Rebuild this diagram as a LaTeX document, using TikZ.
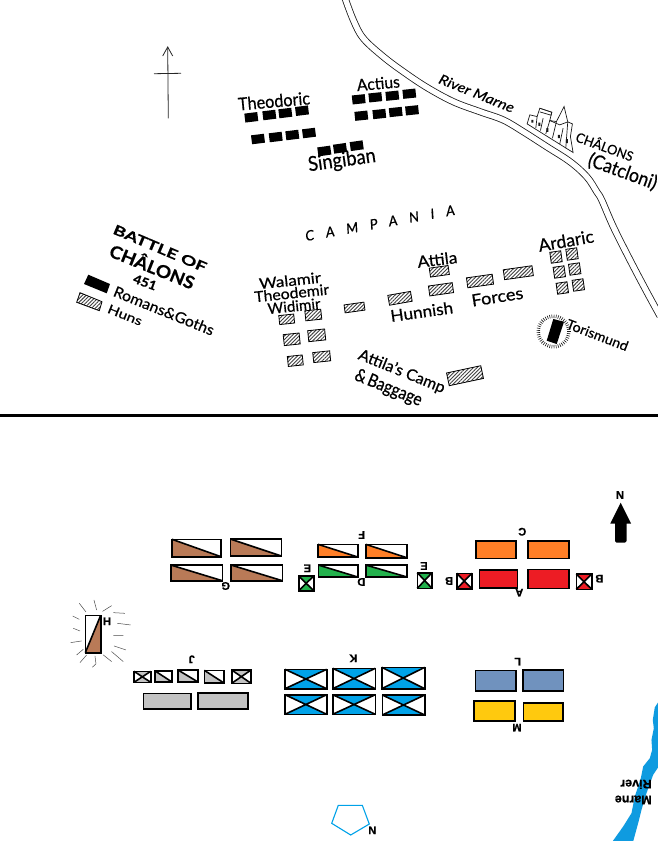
\documentclass[tikz,border=0pt]{standalone}
\usepackage{fontspec}
\usepackage{graphicx}
\setmainfont{Lato}[FakeBold=0.5]
\newfontfamily\lab{Liberation Sans Bold}[FakeBold=0.8]
\usetikzlibrary{patterns.meta}
\definecolor{cbrown}{HTML}{B97A57}
\definecolor{cgreen}{HTML}{22B14C}
\definecolor{corange}{HTML}{FF7F27}
\definecolor{cred}{HTML}{ED1C24}
\definecolor{cgray}{HTML}{C3C3C3}
\definecolor{cblue}{HTML}{00A2E8}
\definecolor{csteel}{HTML}{7092BE}
\definecolor{cyellow}{HTML}{FFC90E}
\definecolor{criver}{HTML}{0F9BE0}
\newcommand{\fw}[3]{\resizebox{#1pt}{#2pt}{#3}}
% lower-left triangle, diagonal top-left to bottom-right
\newcommand{\diagunit}[5]{%
  \fill[#5] (#1,#2) -- (#1,#4) -- (#3,#4) -- cycle;
  \draw[unit] (#1,#2) rectangle (#3,#4);
  \draw[unit] (#1,#2) -- (#3,#4);}
\newcommand{\xfilled}[5]{%
  \fill[#5] (#1,#2) -- (#3,#2) -- ({(#1+#3)/2},{(#2+#4)/2}) -- cycle;
  \fill[#5] (#1,#4) -- (#3,#4) -- ({(#1+#3)/2},{(#2+#4)/2}) -- cycle;
  \draw[unit] (#1,#2) rectangle (#3,#4);
  \draw[unit] (#1,#2) -- (#3,#4) (#3,#2) -- (#1,#4);}
\newcommand{\solid}[5]{\draw[unit,fill=#5] (#1,#2) rectangle (#3,#4);}
\tikzset{
  unit/.style={draw=black,line width=1.6pt,line join=miter},
  blk/.style={fill=black,inner sep=0pt,minimum width=13pt,minimum height=9pt},
  hatchbox/.style={draw=black,line width=.8pt,inner sep=0pt,
    pattern={Lines[angle=45,distance=2.6pt,line width=.9pt]},pattern color=black!75},
  hand/.style={inner sep=0pt,text=black},
  upside/.style={font=\lab\fontsize{11}{11}\selectfont,inner sep=0pt,rotate=180},
  upright/.style={font=\lab\fontsize{11}{11}\selectfont,inner sep=0pt},
}
\begin{document}
\begin{tikzpicture}[x=1pt,y=-1pt]
\useasboundingbox (0,0) rectangle (658,841);
\fill[white] (0,0) rectangle (658,841);

% ---- upper map: north arrow
\draw[line width=.8pt,black!85] (168.3,118.3) -- (167.7,47);
\draw[line width=.8pt,black!85] (162.7,56) -- (167.7,47) -- (172.7,56);
\draw[line width=.8pt,black!85] (154,73.7) -- (181,73.3);

% river
\draw[line width=.8pt,black!90,double=white,double distance=5.4pt,line join=round]
  plot[smooth,tension=.6] coordinates {(345,-2) (353.3,20) (363.3,38.3) (383.3,56.7) (403.3,71.7) (426.7,87.3) (453.3,101.7) (480,111.7) (503.3,120) (523.3,131.7) (546.7,146.7) (570,161.7) (586.7,176.7) (596.7,191.7) (601.7,200) (613.3,226.7) (630,260) (646.7,291.7) (660,316)};
\node[hand,rotate=-22] (rivermarne) at (476.7,93.3) {\fw{80}{10}{\itshape River Marne}};

% town
\begin{scope}[shift={(330,0)},x=.333pt,y=-.333pt,line width=.7pt,black!90]
  \draw[fill=white] (592,372) -- (600,345) -- (622,350) -- (630,325) -- (666,337) -- (660,362) -- (680,365) -- (703,320) -- (714,366) -- (728,372) -- (722,410) -- (730,458) -- cycle;
  \draw (622,350) -- (618,385) (640,355) -- (632,392) (660,362) -- (648,402) (680,365) -- (668,415) (700,385) -- (690,432) (714,366) -- (708,445);
  \draw (630,325) -- (666,337) -- (664,346) -- (630,336);
  \fill (605,360) rectangle (611,368) (626,368) rectangle (632,378) (650,385) rectangle (656,396) (684,405) rectangle (690,415) (708,418) rectangle (714,430);
  \draw (660,362) -- (690,375) -- (714,366);
\end{scope}
\node[hand,rotate=-20] (chalonstown) at (605,145.7) {\fw{60}{12}{CHÂLONS}};
\node[hand,rotate=-20] (catcloni) at (622.7,171.7) {\fw{72}{15}{(Catcloni)}};

% Theodoric, Actius, Singiban
\node[hand,rotate=5] (theodoric) at (274,101) {\fw{72}{13}{Theodoric}};
\foreach \n/\x/\y in {a/251.3/117.3,b/269.3/115,c/285.3/113,d/302/110.7,e/258/139,f/275.7/137,g/292.3/135,h/309/133}
  \node[blk,rotate=7] (th\n) at (\x,\y) {};
\node[hand,rotate=5] (actius) at (378.3,83.3) {\fw{43}{12}{Actius}};
\foreach \n/\x/\y in {a/358.7/99.3,b/375.3/97.3,c/392.3/95.7,d/409.3/93.7,e/361.3/115.7,f/379.3/114,g/395.7/112,h/412/110.3}
  \node[blk,rotate=6] (ac\n) at (\x,\y) {};
\foreach \n/\x/\y in {a/324.3/151,b/340/148.3,c/356.7/145.7}
  \node[blk,rotate=8] (si\n) at (\x,\y) {};
\node[hand,rotate=8] (singiban) at (342,161) {\fw{68}{15}{Singiban}};

% Campania
\node[hand,rotate=10,font=\itshape\fontsize{14}{14}\selectfont] (campania) at (380,223) {\addfontfeature{LetterSpace=85}CAMPANIA};

% title block
\node[hand,rotate=-23] (t1) at (160,248.3) {\fw{100}{10}{\bfseries BATTLE OF}};
\node[hand,rotate=-22] (t2) at (152.7,265.5) {\fw{90}{16}{\bfseries CHÂLONS}};
\node[hand,rotate=-20] (t3) at (145,282.3) {\fw{24}{9}{\bfseries 451}};
\fill[black] (88.3,274.7) -- (110,284) -- (106.7,293.3) -- (84,284) -- cycle;
\draw[hatchbox] (80,292.7) -- (102,301.7) -- (99.3,310.7) -- (76.7,302.3) -- cycle;
\node[hand,rotate=-22] (romans) at (164,310.7) {\fw{107}{11}{Romans\&Goths}};
\node[hand,rotate=-22] (huns) at (125,315) {\fw{36}{9}{Huns}};

% Walamir group
\node[hand,rotate=6] (walamir) at (290,280.5) {\fw{62}{11}{Walamir}};
\node[hand,rotate=6] (theodemir) at (291.7,293) {\fw{75}{11}{Theodemir}};
\node[hand,rotate=6] (widimir) at (294,306) {\fw{53}{11}{Widimir}};
\foreach \n/\x/\y/\w/\h/\r in {
  a/286.7/319.3/15/9/6, b/313.3/315/16/10/6, c/291.7/339.3/16/11/6, d/316.7/335.3/17/11/6,
  e/295.3/360.7/15/10/6, f/321.7/356.7/17/10/6, g/354.5/307.5/20/8/8,
  h/400/298.3/23/10/10, i/439.3/271.3/19/9/8, j/441/289.3/24/10/8, k/480/281/26/10/8, l/518.3/272.7/29/10/8,
  m/556/257/11/11/8, n/572/254/11/11/8, o/559.3/272/11/11/8, p/574.7/269/11/11/8, q/562.3/288/11/11/8, r/578.3/285/11/11/8,
  s/465/375.7/35/13/12}
  \node[hatchbox,minimum width=\w pt,minimum height=\h pt,rotate=\r] (hu\n) at (\x,\y) {};
\node[hand,rotate=7] (attila) at (437.3,259.5) {\fw{40}{12}{Attila}};
\node[hand,rotate=8] (hunnish) at (421.7,311.7) {\fw{63}{12}{Hunnish}};
\node[hand,rotate=9] (forces) at (497.3,296.7) {\fw{52}{12}{Forces}};
\node[hand,rotate=10] (ardaric) at (566,240.7) {\fw{56}{13}{Ardaric}};

% Torismund
\foreach \a in {0,8,...,352}
  \draw[line width=.6pt,black!90] (553.5,331.5) ++(\a:13.5) -- ++(\a:3.5);
\fill[black] (553.3,319) -- (564,321.7) -- (556.7,344) -- (546.7,340.7) -- cycle;
\node[hand,rotate=-21] (torismund) at (597.5,335) {\fw{65}{10}{Torismund}};

% camp
\node[hand,rotate=-22] (camp) at (401.7,371.7) {\fw{92}{12}{Attila's Camp}};
\node[hand,rotate=-22] (baggage) at (388.3,388.3) {\fw{71}{13}{\&\,Baggage}};

% separator
\draw[line width=3pt] (0,415.5) -- (658,415.5);

% ---- lower map
\fill[black] (620.7,502.7) -- (631,523.5) -- (626.7,523.5) -- (626.7,541) -- (625,542.7) -- (616.5,542.7) -- (615,541) -- (615,523.5) -- (610.3,523.5) -- cycle;
\node[upright] (north) at (620,495) {N};

\diagunit{172}{539.3}{221}{556.7}{cbrown}
\diagunit{230.3}{539}{281.3}{556}{cbrown}
\diagunit{170.7}{565}{222.3}{580.7}{cbrown}
\diagunit{231}{565}{282.3}{580.7}{cbrown}
\node[upside] (G) at (225.7,586) {G};

\diagunit{318}{544.3}{357.7}{557}{corange}
\diagunit{365.7}{544.3}{406.7}{557.7}{corange}
\node[upside] (F) at (361.7,535) {F};
\diagunit{318.3}{565}{357.7}{577}{cgreen}
\diagunit{365.7}{565}{407}{577}{cgreen}
\node[upside] (D) at (361.3,582) {D};
\node[upside] (E1) at (307.3,568.3) {E};
\node[upside] (E2) at (424,566) {E};
\xfilled{298.7}{576}{313.7}{590.7}{cgreen}
\xfilled{417.3}{572.7}{432}{588.3}{cgreen}

\node[upside] (C) at (522.3,531.7) {C};
\solid{476}{540.7}{515.7}{558.3}{corange}
\solid{527.7}{540.7}{569}{558.3}{corange}
\solid{479.3}{570}{517.3}{587.7}{cred}
\solid{527.7}{569.3}{569}{588.3}{cred}
\node[upside] (A) at (519.3,592.7) {A};
\node[upside] (B1) at (449,581) {B};
\node[upside] (B2) at (599.3,578.7) {B};
\xfilled{456.7}{573.3}{472}{588.7}{cred}
\xfilled{576.3}{574}{591.7}{589.3}{cred}

% H
\fill[cbrown] (100.7,615.3) -- (100.7,652.7) -- (85.3,652.7) -- cycle;
\draw[unit] (85.3,615.3) rectangle (100.7,652.7);
\draw[unit] (100.7,615.3) -- (85.3,652.7);
\node[upright] (H) at (107,621.3) {H};
\begin{scope}[shift={(60,590)},x=.333pt,y=-.333pt,line width=.5pt,black!70]
  \draw (58,40) -- (78,66) (102,30) -- (110,60) (128,64) -- (155,47) (160,68) -- (195,70)
        (172,100) -- (212,105) (160,136) -- (190,136) (162,168) -- (198,180) (155,185) -- (190,215)
        (130,195) -- (155,215) (105,198) -- (108,222) -- (97,232) (80,195) -- (60,218)
        (70,178) -- (50,195) (32,158) -- (65,153) (40,115) -- (60,123) (38,78) -- (58,88);
\end{scope}

% J
\node[upside] (J) at (191.7,659.3) {J};
\xfilled{134}{671.3}{150.7}{682.3}{cgray}
\diagunit{154.7}{670.7}{172}{682}{cgray}
\diagunit{178}{670}{198}{682}{cgray}
\diagunit{204.3}{670.3}{224}{683}{cgray}
\xfilled{231.7}{670}{251}{683.3}{cgray}
\solid{143.3}{693.3}{191}{708.7}{cgray}
\solid{197.7}{692.7}{247.7}{708.7}{cgray}

% K
\node[upside] (K) at (353.3,658.3) {K};
\xfilled{285}{669.3}{326.7}{688.7}{cblue}
\xfilled{332.7}{668.3}{375.3}{688.7}{cblue}
\xfilled{381.7}{667.3}{424.7}{688.7}{cblue}
\xfilled{285}{694.7}{326.7}{714.3}{cblue}
\xfilled{332.7}{694.7}{375.3}{714.3}{cblue}
\xfilled{382.3}{695}{424.7}{715}{cblue}

% L, M
\node[upside] (L) at (517.7,661.7) {L};
\solid{475.3}{670.3}{516}{691}{csteel}
\solid{522.7}{669.7}{563.3}{691}{csteel}
\solid{473.7}{701}{514.7}{720.7}{cyellow}
\solid{523.3}{702.7}{562.7}{721}{cyellow}
\node[upside] (M) at (517,727.7) {M};

% pentagon
\draw[line width=1.1pt,cblue] (338.3,805.3) -- (362.3,805.3) -- (369.3,824) -- (350.7,835) -- (331.7,823.3) -- cycle;
\node[upside] (N2) at (372.3,830.3) {N};

% Marne
\begin{scope}[shift={(460,650)},x=.333pt,y=-.333pt]
  \fill[criver] (600,150) -- (585,172) -- (579,210) -- (582,235) -- (575,270) -- (577,300) -- (570,325) -- (550,350) -- (543,385) -- (525,440) -- (515,490) -- (490,530) -- (458,575) -- (520,575) -- (535,520) -- (545,480) -- (560,430) -- (580,375) -- (600,345) -- cycle;
\end{scope}
\node[upside,font=\lab\fontsize{12.5}{12.5}\selectfont] (river) at (636,784.3) {River};
\node[upside,font=\lab\fontsize{12.5}{12.5}\selectfont] (marne) at (633.3,800) {Marne};
\end{tikzpicture}
\end{document}
